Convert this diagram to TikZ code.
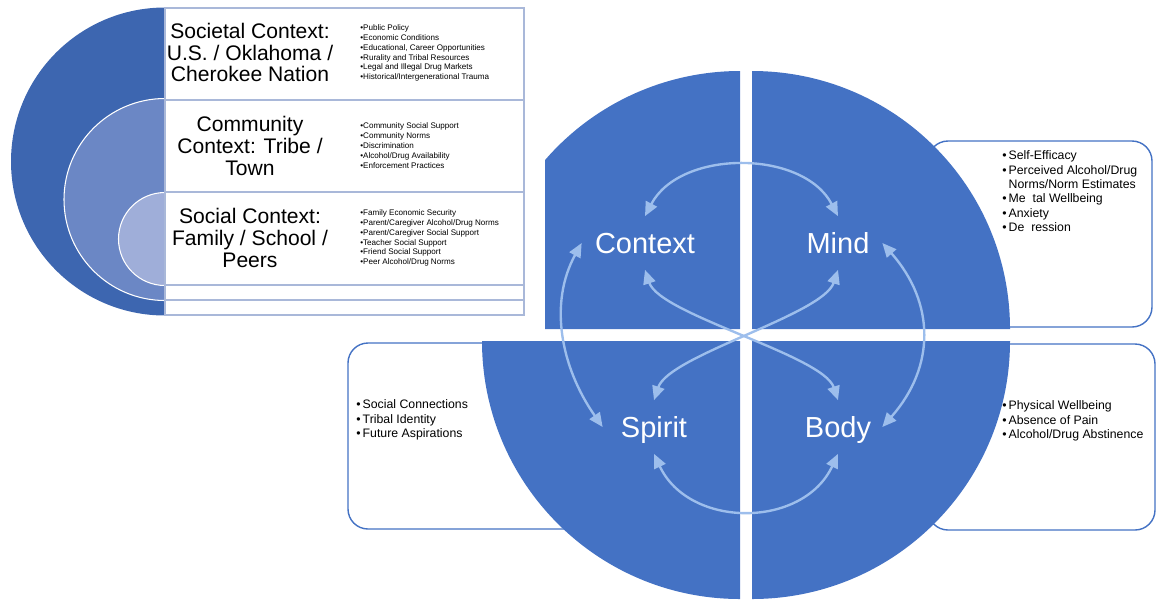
\documentclass[tikz,border=0pt]{standalone}
\usepackage{fontspec}
\setmainfont{Liberation Sans}
\usepackage{tikz}
\usetikzlibrary{arrows.meta}
\definecolor{quadblue}{HTML}{4472C4}
\definecolor{linkblue}{HTML}{9DBEEC}
\definecolor{outerblue}{HTML}{3D66B0}
\definecolor{middleblue}{HTML}{6B87C5}
\definecolor{innerblue}{HTML}{9FAED9}
\definecolor{rowline}{HTML}{A9B8D9}

\begin{document}
\begin{tikzpicture}[x=0.02cm, y=0.02cm,
  quadlabel/.style={text=white, font=\fontsize{16.5}{18}\selectfont, text height=12pt, text depth=0pt, minimum height=1.06cm, inner sep=0pt},
  link/.style={linkblue, line width=1.35pt, {Triangle[length=8pt,width=7pt]}-{Triangle[length=8pt,width=7pt]}},
  sidebox/.style={draw=quadblue, line width=0.8pt, rounded corners=0.4cm, fill=white},
  sidelist/.style={anchor=north west, align=left, inner sep=0pt, font=\fontsize{7}{8.2}\selectfont},
  rowbox/.style={draw=rowline, line width=0.8pt, fill=white},
  rowtitle/.style={align=center, font=\fontsize{12}{12.3}\selectfont},
  rowlist/.style={anchor=west, align=left, inner sep=0pt, font=\fontsize{4.6}{5.6}\selectfont}]
  \useasboundingbox (0,0) rectangle (1157,-600);

  \fill[outerblue] (165,-7.5) arc[start angle=90, end angle=270, radius=154] -- cycle;
  \filldraw[fill=middleblue, draw=white, line width=0.6pt] (165,-98.5) arc[start angle=90, end angle=270, radius=101] -- cycle;
  \filldraw[fill=innerblue, draw=white, line width=0.6pt] (165,-192.5) arc[start angle=90, end angle=270, radius=46.5] -- cycle;
  \draw[rowbox] (165,-8) rectangle (524,-100);
  \draw[rowbox] (165,-100) rectangle (524,-192);
  \draw[rowbox] (165,-192) rectangle (524,-285);
  \draw[rowbox] (165,-285) rectangle (524,-300);
  \draw[rowbox] (165,-300) rectangle (524,-315);

  \node[rowtitle] (societal) at (250,-52.5) {Societal Context:\\U.S. / Oklahoma /\\Cherokee Nation};
  \node[rowtitle] (community) at (250,-146) {Community\\Context: Tribe /\\Town};
  \node[rowtitle] (social) at (250,-238) {Social Context:\\Family / School /\\Peers};
  \node[rowlist] (societallist) at (360,-53) {•Public Policy\\•Economic Conditions\\•Educational, Career Opportunities\\•Rurality and Tribal Resources\\•Legal and Illegal Drug Markets\\•Historical/Intergenerational Trauma};
  \node[rowlist] (communitylist) at (360,-145.5) {•Community Social Support\\•Community Norms\\•Discrimination\\•Alcohol/Drug Availability\\•Enforcement Practices};
  \node[rowlist] (sociallist) at (360,-238) {•Family Economic Security\\•Parent/Caregiver Alcohol/Drug Norms\\•Parent/Caregiver Social Support\\•Teacher Social Support\\•Friend Social Support\\•Peer Alcohol/Drug Norms};

  \draw[sidebox] (928,-141) rectangle (1152,-327);
  \draw[sidebox] (928,-344) rectangle (1155,-530);
  \draw[sidebox] (348,-343) rectangle (600,-529);

  \fill[quadblue] (740,-329) -- (740,-71) arc[start angle=90, end angle=139.1, radius=258] -- (545,-329) -- cycle;
  \fill[quadblue] (752,-329) -- (752,-71) arc[start angle=90, end angle=0, radius=258] -- cycle;
  \fill[quadblue] (740,-341) -- (482,-341) arc[start angle=180, end angle=270, radius=258] -- cycle;
  \fill[quadblue] (752,-341) -- (752,-599) arc[start angle=270, end angle=360, radius=258] -- cycle;

  \node[sidelist] (mindlist) at (1002,-150.5) {•\,Self-Efficacy\\•\,Perceived Alcohol/Drug\\\phantom{•\,}Norms/Norm Estimates\\•\,Me\phantom{n}tal Wellbeing\\•\,Anxiety\\•\,De\phantom{p}ression};
  \node[sidelist] (bodylist) at (1002,-400.5) {•\,Physical Wellbeing\\•\,Absence of Pain\\•\,Alcohol/Drug Abstinence};
  \node[sidelist] (spiritlist) at (356,-399.5) {•\,Social Connections\\•\,Tribal Identity\\•\,Future Aspirations};

  \node[quadlabel, minimum width=2.52cm] (context) at (645,-243) {Context};
  \node[quadlabel, minimum width=1.76cm] (mind) at (838,-243) {Mind};
  \node[quadlabel, minimum width=2.04cm] (spirit) at (654,-427) {Spirit};
  \node[quadlabel, minimum width=1.76cm] (body) at (838,-427) {Body};

  \draw[link] (context.north) .. controls +(35,67) and +(-35,67) .. (mind.north);
  \draw[link] (spirit.south) .. controls +(35,-75) and +(-35,-75) .. (body.south);
  \draw[link] (context.west) .. controls +(-33,-60) and +(-42,60) .. (spirit.west);
  \draw[link] (mind.east) .. controls +(53,-60) and +(53,60) .. (body.east);
  \draw[link] (context.south) .. controls +(15,-45) and +(-15,45) .. (body.north);
  \draw[link] (mind.south) .. controls +(-15,-45) and +(15,45) .. (spirit.north);
\end{tikzpicture}
\end{document}
